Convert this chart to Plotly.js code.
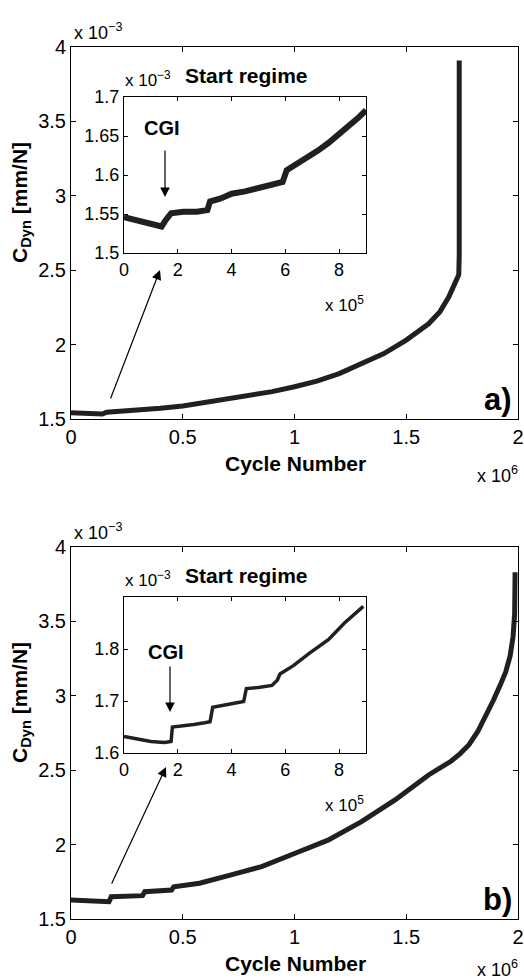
<!DOCTYPE html>
<html>
<head>
<meta charset="utf-8">
<script src="https://cdn.plot.ly/plotly-3.0.1.min.js"></script>
<style>html,body{margin:0;padding:0;background:#fff;}#chart{width:524px;height:980px;}</style>
</head>
<body>
<div id="chart"></div>
<script>
// ---- Panel a) main curve (cycles in units of 1e6, compliance in units of 1e-3 mm/N)
const aMainX = [0, 0.07, 0.14, 0.16, 0.25, 0.32, 0.4, 0.5, 0.6, 0.7, 0.8, 0.9, 1.0, 1.1, 1.2, 1.3, 1.4, 1.5, 1.55, 1.6, 1.65, 1.69, 1.72, 1.735, 1.737, 1.737];
const aMainY = [1.542, 1.538, 1.533, 1.545, 1.552, 1.560, 1.572, 1.588, 1.610, 1.632, 1.655, 1.684, 1.717, 1.755, 1.805, 1.870, 1.940, 2.030, 2.080, 2.140, 2.220, 2.320, 2.420, 2.470, 2.600, 3.910];
// ---- Panel a) inset (cycles in units of 1e5)
const aInsetX = [0, 0.4, 0.8, 1.2, 1.4, 1.55, 1.75, 2.2, 2.7, 3.1, 3.2, 3.6, 4.0, 4.5, 5.0, 5.5, 5.9, 6.05, 6.4, 6.8, 7.2, 7.6, 8.0, 8.4, 8.7, 9.0];
const aInsetY = [1.546, 1.543, 1.540, 1.536, 1.534, 1.542, 1.551, 1.553, 1.553, 1.555, 1.566, 1.570, 1.576, 1.579, 1.583, 1.587, 1.591, 1.606, 1.613, 1.622, 1.631, 1.641, 1.652, 1.664, 1.673, 1.683];
// ---- Panel b) main curve
const bMainX = [0, 0.08, 0.17, 0.18, 0.3, 0.32, 0.33, 0.45, 0.46, 0.575, 0.7, 0.853, 1.0, 1.15, 1.3, 1.45, 1.6, 1.65, 1.7, 1.74, 1.78, 1.82, 1.86, 1.89, 1.92, 1.945, 1.965, 1.978, 1.985, 1.987];
const bMainY = [1.628, 1.622, 1.616, 1.650, 1.655, 1.657, 1.683, 1.695, 1.717, 1.740, 1.790, 1.852, 1.940, 2.030, 2.154, 2.300, 2.468, 2.510, 2.560, 2.610, 2.670, 2.760, 2.870, 2.970, 3.070, 3.160, 3.270, 3.400, 3.550, 3.830];
// ---- Panel b) inset
const bInsetX = [0, 0.5, 1.0, 1.5, 1.75, 1.8, 2.2, 2.6, 3.0, 3.2, 3.3, 3.7, 4.1, 4.45, 4.55, 5.0, 5.5, 5.7, 5.8, 6.3, 6.9, 7.6, 8.2, 8.9];
const bInsetY = [1.632, 1.627, 1.622, 1.620, 1.622, 1.650, 1.652, 1.655, 1.658, 1.660, 1.688, 1.692, 1.695, 1.699, 1.724, 1.726, 1.730, 1.740, 1.752, 1.768, 1.792, 1.818, 1.850, 1.882];

// tick labels
const mainXTicks = [0, 0.5, 1, 1.5, 2];
const mainXLabels = ["0", "0.5", "1", "1.5", "2"];
const mainYTicks = [1.5, 2, 2.5, 3, 3.5, 4];
const mainYLabels = ["1.5", "2", "2.5", "3", "3.5", "4"];
const insetXTicks = [0, 2, 4, 6, 8];
const insetXLabels = ["0", "2", "4", "6", "8"];
const aInsetYTicks = [1.5, 1.55, 1.6, 1.65, 1.7];
const aInsetYLabels = ["1.5", "1.55", "1.6", "1.65", "1.7"];
const bInsetYTicks = [1.6, 1.7, 1.8];
const bInsetYLabels = ["1.6", "1.7", "1.8"];

const W = 524, H = 980;
const px = v => v / W;
const py = v => 1 - v / H;
const FONT = "Liberation Sans, Arial, Helvetica, sans-serif";
const LC = "#231f20";
const MAIN_TICK = 20, INSET_TICK = 18;

function axisBase(extra) {
  return Object.assign({
    showline: true, linecolor: "#000", linewidth: 1, mirror: "ticks",
    ticks: "inside", ticklen: 5, tickcolor: "#000", tickwidth: 1,
    showgrid: false, zeroline: false, fixedrange: true, ticklabeloverflow: "allow",
    tickmode: "array", tickfont: {family: FONT, size: MAIN_TICK, color: "#000"}
  }, extra);
}
const insetFont = {family: FONT, size: INSET_TICK, color: "#000"};

const traces = [
  {x: aMainX, y: aMainY, xaxis: "x", yaxis: "y", mode: "lines", line: {color: LC, width: 5}, hoverinfo: "skip"},
  {x: aInsetX, y: aInsetY, xaxis: "x2", yaxis: "y2", mode: "lines", line: {color: LC, width: 6}, hoverinfo: "skip"},
  {x: bMainX, y: bMainY, xaxis: "x3", yaxis: "y3", mode: "lines", line: {color: LC, width: 5}, hoverinfo: "skip"},
  {x: bInsetX, y: bInsetY, xaxis: "x4", yaxis: "y4", mode: "lines", line: {color: LC, width: 3.5}, hoverinfo: "skip"}
];

const mainXDom = [px(71), px(518)];
const insetXDom = [px(124), px(366)];

const layout = {
  width: W, height: H,
  margin: {l: 0, r: 0, t: 0, b: 0},
  paper_bgcolor: "#fff", plot_bgcolor: "#fff",
  showlegend: false,
  font: {family: FONT, color: "#000"},
  xaxis: axisBase({domain: mainXDom, range: [0, 2], anchor: "y", tickvals: mainXTicks, ticktext: mainXLabels}),
  yaxis: axisBase({domain: [py(419), py(47)], range: [1.5, 4], anchor: "x", tickvals: mainYTicks, ticktext: mainYLabels}),
  xaxis2: axisBase({domain: insetXDom, range: [0, 9], anchor: "y2", tickvals: insetXTicks, ticktext: insetXLabels, ticklen: 4, tickfont: insetFont}),
  yaxis2: axisBase({domain: [py(253), py(97)], range: [1.5, 1.7], anchor: "x2", tickvals: aInsetYTicks, ticktext: aInsetYLabels, ticklen: 4, tickfont: insetFont}),
  xaxis3: axisBase({domain: mainXDom, range: [0, 2], anchor: "y3", tickvals: mainXTicks, ticktext: mainXLabels}),
  yaxis3: axisBase({domain: [py(919), py(547)], range: [1.5, 4], anchor: "x3", tickvals: mainYTicks, ticktext: mainYLabels}),
  xaxis4: axisBase({domain: insetXDom, range: [0, 9], anchor: "y4", tickvals: insetXTicks, ticktext: insetXLabels, ticklen: 4, tickfont: insetFont}),
  yaxis4: axisBase({domain: [py(753), py(597)], range: [1.6, 1.9], anchor: "x4", tickvals: bInsetYTicks, ticktext: bInsetYLabels, ticklen: 4, tickfont: insetFont}),
  annotations: []
};

function txt(x, y, text, size, opts) {
  layout.annotations.push(Object.assign({
    xref: "paper", yref: "paper", x: px(x), y: py(y), text: text, showarrow: false,
    xanchor: "center", yanchor: "middle",
    font: {family: FONT, size: size, color: "#000"}
  }, opts || {}));
}
function arrow(hx, hy, tx, ty, head, size) {
  layout.annotations.push({
    xref: "paper", yref: "paper", x: px(hx), y: py(hy), ax: tx - hx, ay: ty - hy,
    text: "", showarrow: true, arrowhead: head, arrowsize: size, arrowwidth: 1.2, arrowcolor: "#000", standoff: 0
  });
}

[0, 500].forEach((dy, i) => {
  // exponent labels
  txt(72, 31 + dy, "x 10<sup>−3</sup>", 18, {xanchor: "left"});
  txt(123, 79 + dy, "x 10<sup>−3</sup>", 17, {xanchor: "left"});
  txt(183, 75 + dy, "<b>Start regime</b>", 21, {xanchor: "left"});
  txt(323, 304 + dy, "x 10<sup>5</sup>", 17, {xanchor: "left"});
  txt(520, (i === 0 ? 474 : 968), "x 10<sup>6</sup>", 18, {xanchor: "right"});
  // axis titles
  txt(295, 463 + dy, "<b>Cycle Number</b>", 21);
  txt(21, 203 + dy, "<b>C<sub>Dyn</sub> [mm/N]</b>", 21, {textangle: -90});
  // panel label
  txt(514, 399 + dy, i === 0 ? "<b>a)</b>" : "<b>b)</b>", 31, {xanchor: "right"});
});
// CGI labels & arrows
txt(162, 128, "<b>CGI</b>", 20);
arrow(165, 197, 165, 149, 2, 1.6);
arrow(160, 270, 110, 400, 2, 1.6);
txt(166, 652, "<b>CGI</b>", 20);
arrow(170, 712, 170, 665, 2, 1.6);
arrow(166, 767, 111, 885, 2, 1.6);

Plotly.newPlot("chart", traces, layout, {staticPlot: true, displayModeBar: false});
</script>
</body>
</html>
